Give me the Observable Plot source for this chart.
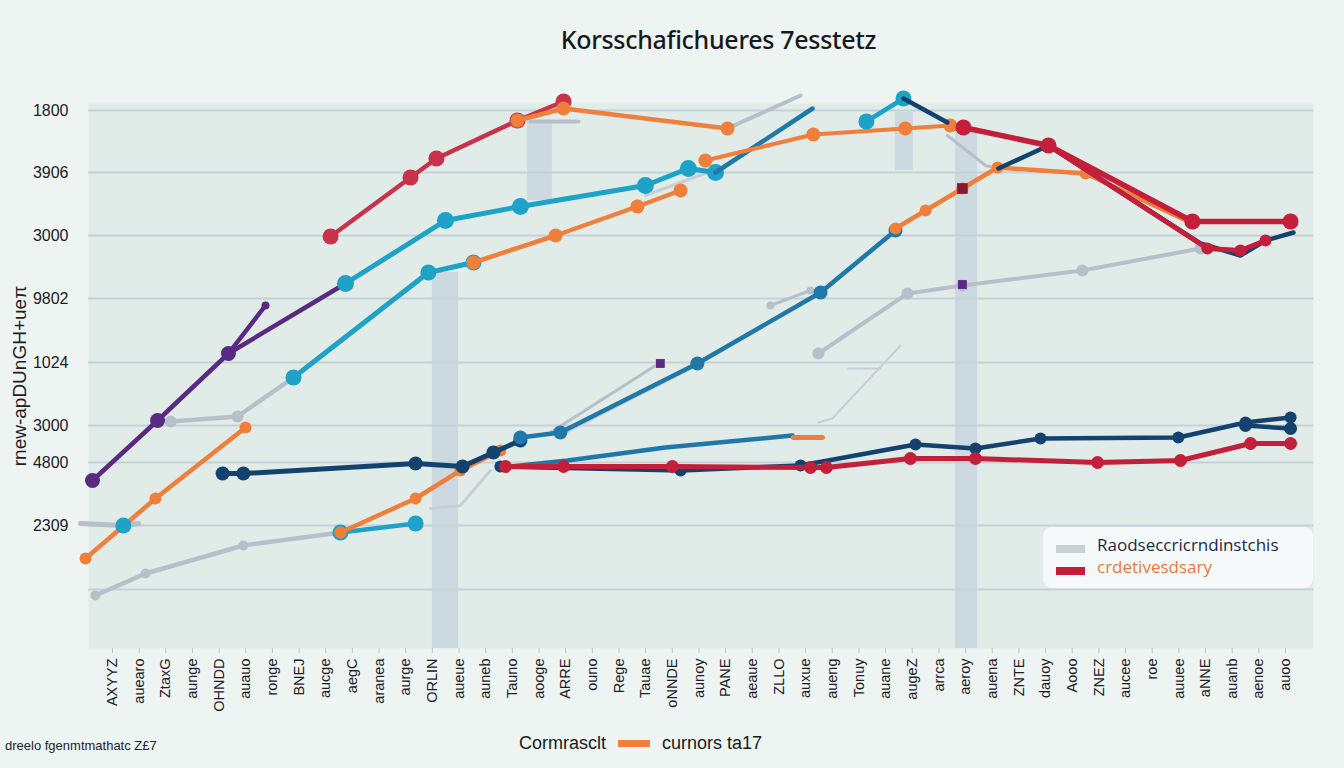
<!DOCTYPE html>
<html>
<head>
<meta charset="utf-8">
<script src="https://cdn.jsdelivr.net/npm/d3@7"></script>
<script src="https://cdn.jsdelivr.net/npm/@observablehq/plot@0.6"></script>
<style>
  html, body { margin: 0; padding: 0; background: #eef4f2; width: 1344px; height: 768px; overflow: hidden; position: relative; font-family: "Noto Sans", "Liberation Sans", sans-serif; }
  #title { position: absolute; left: 0; width: 1437px; top: 22px; text-align: center; font-size: 25px; color: #161a1c; font-weight: 500; letter-spacing: -0.3px; }
  #chart { position: absolute; left: 0; top: 70px; }
  #legend { position: absolute; left: 1043px; top: 527px; width: 270px; height: 61px; background: rgba(247,250,250,0.92); border-radius: 9px; }
  .sw { position: absolute; left: 13px; width: 29px; height: 8px; }
  .lt { position: absolute; left: 54px; font-size: 17px; font-weight: 500; font-family: "Open Sans", "Noto Sans", sans-serif; }
  #capL { position: absolute; left: 5px; top: 738px; font-size: 13px; color: #1b2230; font-family: "Liberation Sans Narrow", "Liberation Sans", sans-serif; }
  #capC { position: absolute; left: 519px; top: 733px; font-size: 18px; color: #161a1c; font-family: "Liberation Sans Narrow", "Liberation Sans", sans-serif; display: flex; align-items: center; }
  #capC .s { display: inline-block; width: 32px; height: 7px; background: #f07f3c; margin: 0 12px 0 12px; }
</style>
</head>
<body>
<div id="title">Korsschafichueres 7esstetz</div>
<div id="chart"></div>
<div id="legend">
  <div class="sw" style="top:18px;background:#c8d0d8"></div>
  <div class="lt" style="top:6px;color:#1b2a4a">Raodseccricrndinstchis</div>
  <div class="sw" style="top:40px;background:#c41e3a"></div>
  <div class="lt" style="top:28px;color:#ea7a3a">crdetivesdsary</div>
</div>
<div id="capL">dreelo fgenmtmathatc Z£7</div>
<div id="capC">Cormrasclt<span class="s"></span>curnors ta17</div>
<script>
// ---- Data (x = period index, y = value) ----
const xLabels = ["AXYYZ","auearo","ZtaxG","aunge","OHNDD","auauo","ronge","BNEJ","aucge","aegC",
  "aranea","aurge","ORLIN","aueue","auneb","Tauno","aooge","ARRE","ouno","Rege",
  "Tauae","oNNDE","aunoy","PANE","aeaue","ZLLO","auxue","aueng","Tonuy","auane",
  "augeZ","arrca","aeroy","auena","ZNTE","dauoy","Aooo","ZNEZ","aucee","roe",
  "auuee","aNNE","auanb","aenoe","auoo"];
const yTickValues = [53.8, 47.6, 41.3, 35.0, 28.6, 22.3, 18.6, 12.3];
const yTickLabels = ["1800", "3906", "3000", "9802", "1024", "3000", "4800", "2309"];
const gridValues = [53.8, 47.6, 41.3, 35.0, 28.6, 22.3, 18.6, 12.3, 5.9];

const purple = [[-0.75,16.8],[1.69,22.8],[4.35,29.5],[8.74,36.5]];
const purpleSpur = [[4.35,29.5],[5.74,34.3]];
const purpleDot = [[20.55,28.5],[31.88,36.4]];
const redTop = [[8.18,41.2],[11.18,47.1],[12.15,49.0],[15.19,52.8],[16.92,54.7]];
const orangeTop = [[15.19,52.8],[16.92,54.0],[23.07,52.0]];
const grayTop = [[23.07,52.0],[25.81,55.3]];
const grayStubTop = [[15.68,52.7],[17.48,52.7]];
const tealA = [[8.74,36.5],[12.49,42.8],[15.3,44.2],[19.99,46.3],[21.6,48.0],[22.62,47.6]];
const blueA = [[22.62,47.6],[26.26,54.0]];
const grayLeft = [[-1.2,12.5],[0.41,12.3],[0.98,12.5]];
const tealDotLeft = [[0.41,12.3]];
const orangeA = [[-1.01,9.0],[1.61,15.0],[4.99,22.1]];
const grayA = [[2.18,22.7],[4.69,23.2],[6.79,27.1]];
const tealB = [[6.79,27.1],[11.85,37.6],[13.54,38.6]];
const orangeB = [[13.54,38.6],[16.62,41.3],[19.69,44.2],[21.31,45.8]];
const orangeC = [[22.24,48.8],[26.29,51.4],[29.74,52.0],[31.43,52.3]];
const grayMid = [[19.99,45.3],[22.73,48.0]];
const tealTop = [[28.28,52.7],[29.67,55.0]];
const navyTop = [[29.67,55.0],[31.32,52.6]];
const grayTR = [[31.32,51.3],[32.75,48.3],[33.23,48.0]];
const red2 = [[31.92,52.1],[35.11,50.3],[40.51,42.7],[44.19,42.7]];
const red3 = [[35.11,50.3],[41.07,40.0],[42.31,39.8],[43.25,40.8]];
const navyTR = [[33.23,48.0],[35.11,50.3],[40.81,40.5],[42.31,39.3],[43.25,40.8],[44.3,41.6]];
const orangeE = [[29.37,42.0],[30.5,43.8],[31.88,46.0],[33.2,48.1],[36.5,47.5],[40.44,42.6]];
const darkRedDot = [[31.88,46.0]];
const tealC = [[15.3,21.1],[16.8,21.6],[21.94,28.5],[26.56,35.6],[29.37,41.8]];
const grayR = [[26.48,29.5],[29.82,35.5],[31.88,36.3],[36.38,37.8],[40.81,40.0]];
const grayStubR = [[24.68,34.3],[26.18,35.8]];
const grayC1 = [[16.43,21.6],[20.37,28.3]];
const grayC2 = [[16.99,21.6],[21.68,28.0]];
const grayLow = [[11.93,14.0],[13.05,14.3],[14.18,17.8]];
const grayLowR = [[26.48,22.6],[27.0,23.0],[29.56,30.3]];
const grayLowR2 = [[27.6,28.0],[28.81,28.0]];
const grayBottom = [[-0.64,5.3],[1.24,7.5],[4.91,10.3],[8.55,11.6]];
const tealD = [[8.55,11.6],[11.37,12.5]];
const orangeD = [[8.55,11.6],[11.37,15.0],[13.05,17.8],[14.55,19.8]];
const navyA = [[4.13,17.5],[4.91,17.5],[11.37,18.5],[13.13,18.2],[14.29,19.6],[15.3,20.8]];
const blueB = [[14.55,18.1],[17.07,18.8],[20.74,20.1],[25.51,21.3]];
const orangeStub = [[25.54,21.1],[26.63,21.1]];
const navyB = [[14.55,18.2],[21.31,17.8],[25.81,18.3],[30.12,20.4],[32.37,20.0],[34.81,21.0],[39.98,21.1],[42.5,22.6],[44.19,23.1]];
const navyC = [[42.5,22.3],[44.19,22.0]];
const redB = [[14.74,18.2],[16.92,18.2],[21.0,18.2],[26.18,18.1],[26.78,18.1],[29.93,19.0],[32.37,19.0],[36.95,18.6],[40.06,18.8],[42.69,20.5],[44.19,20.5]];
const bands = [[12.0,12.98,0,37.6],[15.57,16.5,44.8,52.8],[29.37,30.04,47.8,53.6],[31.62,32.45,0,51.8]];

// ---- Styles ----
const C = {purple:"#5a2a82", red:"#c8324a", crimson:"#c41e3a", orange:"#f07f3c", teal:"#1ea2c8", navy:"#14426e", blue:"#1f78a8", gray:"#b6bfca"};
const series = [
  {d: grayBottom, c: C.gray, w: 4.5, r: 5},
  {d: grayLeft, c: C.gray, w: 5, r: 0},
  {d: grayA, c: C.gray, w: 4.5, r: 6},
  {d: grayLow, c: "#c7ced6", w: 3, r: 0},
  {d: grayC1, c: C.gray, w: 3, r: 0},
  {d: grayC2, c: "#c7ced6", w: 3, r: 0},
  {d: grayR, c: C.gray, w: 4, r: 6},
  {d: grayStubR, c: C.gray, w: 3, r: 4},
  {d: grayLowR, c: "#c7ced6", w: 2, r: 0},
  {d: grayLowR2, c: "#c7ced6", w: 2, r: 0},
  {d: grayMid, c: "#c7ced6", w: 3, r: 0},
  {d: grayTop, c: C.gray, w: 4, r: 0},
  {d: grayStubTop, c: C.gray, w: 4, r: 0},
  {d: grayTR, c: C.gray, w: 3, r: 0},
  {d: purple, c: C.purple, w: 4.5, r: 7.5},
  {d: purpleSpur, c: C.purple, w: 4.5, r: 4},
  {d: orangeA, c: C.orange, w: 4.5, r: 6},
  {d: tealB, c: C.teal, w: 5, r: 8},
  {d: tealA, c: C.teal, w: 5, r: 8.5},
  {d: blueA, c: C.blue, w: 4.5, r: 0},
  {d: orangeB, c: C.orange, w: 4.5, r: 7},
  {d: orangeC, c: C.orange, w: 4, r: 7},
  {d: redTop, c: C.red, w: 4.5, r: 8},
  {d: orangeTop, c: C.orange, w: 4.5, r: 7},
  {d: tealD, c: C.teal, w: 4.5, r: 8},
  {d: orangeD, c: C.orange, w: 4.5, r: 6},
  {d: navyA, c: C.navy, w: 5, r: 7},
  {d: blueB, c: C.blue, w: 4.5, r: 0},
  {d: orangeStub, c: C.orange, w: 5, r: 0},
  {d: navyB, c: C.navy, w: 4.5, r: 6},
  {d: navyC, c: C.navy, w: 4.5, r: 6.5},
  {d: redB, c: C.crimson, w: 5, r: 6.5},
  {d: tealC, c: C.blue, w: 4.5, r: 7},
  {d: orangeE, c: C.orange, w: 4.5, r: 6},
  {d: navyTR, c: C.navy, w: 4.5, r: 0},
  {d: red3, c: C.crimson, w: 5, r: 6},
  {d: red2, c: C.crimson, w: 5.5, r: 8},
  {d: tealTop, c: C.teal, w: 4.5, r: 8},
  {d: navyTop, c: C.navy, w: 4.5, r: 0}
];

const marks = [
  Plot.frame({fill: "#e1ebe8", stroke: "none"}),
  Plot.rect(bands, {x1: d => d[0], x2: d => d[1], y1: d => d[2], y2: d => d[3], fill: "#c5d3dd", fillOpacity: 0.75}),
  Plot.ruleY(gridValues, {stroke: "#c3d2d6", strokeWidth: 2}),
  Plot.axisY({ticks: yTickValues, tickFormat: v => yTickLabels[yTickValues.indexOf(v)], tickSize: 0, tickPadding: 20, fontSize: 16, fill: "#1c2026", label: null}),
  Plot.axisY({ticks: [], tickSize: 0, fontSize: 19, fill: "#1c2026",
    label: "rnew-apDUnGH+ueπ", labelAnchor: "center", labelArrow: "none", labelOffset: 76}),
  Plot.axisX({ticks: d3.range(45), tickFormat: i => xLabels[i], tickRotate: -90, tickSize: 5, tickPadding: 5, fontSize: 14.5, stroke: "#b9c6cc", fill: "#1c2026", label: null})
];
for (const s of series) {
  marks.push(Plot.line(s.d, {x: d => d[0], y: d => d[1], stroke: s.c, strokeWidth: s.w, strokeLinecap: "round", strokeLinejoin: "round"}));
  if (s.r > 0) marks.push(Plot.dot(s.d, {x: d => d[0], y: d => d[1], r: s.r, fill: s.c}));
}
marks.push(Plot.dot(tealDotLeft, {x: d => d[0], y: d => d[1], r: 8, fill: C.teal}));
marks.push(Plot.dot(purpleDot, {x: d => d[0], y: d => d[1], r: 5, fill: C.purple, symbol: "square"}));
marks.push(Plot.dot(darkRedDot, {x: d => d[0], y: d => d[1], r: 6, fill: "#8a1733", symbol: "square"}));

const chart = Plot.plot({
  width: 1344,
  height: 655,
  marginLeft: 88,
  marginRight: 31,
  marginTop: 33,
  marginBottom: 77,
  style: {background: "transparent", fontFamily: "'Liberation Sans Narrow', 'Liberation Sans', sans-serif"},
  x: {domain: [-0.9, 45.05]},
  y: {domain: [0, 54.5]},
  marks
});
document.getElementById("chart").appendChild(chart);
</script>
</body>
</html>
